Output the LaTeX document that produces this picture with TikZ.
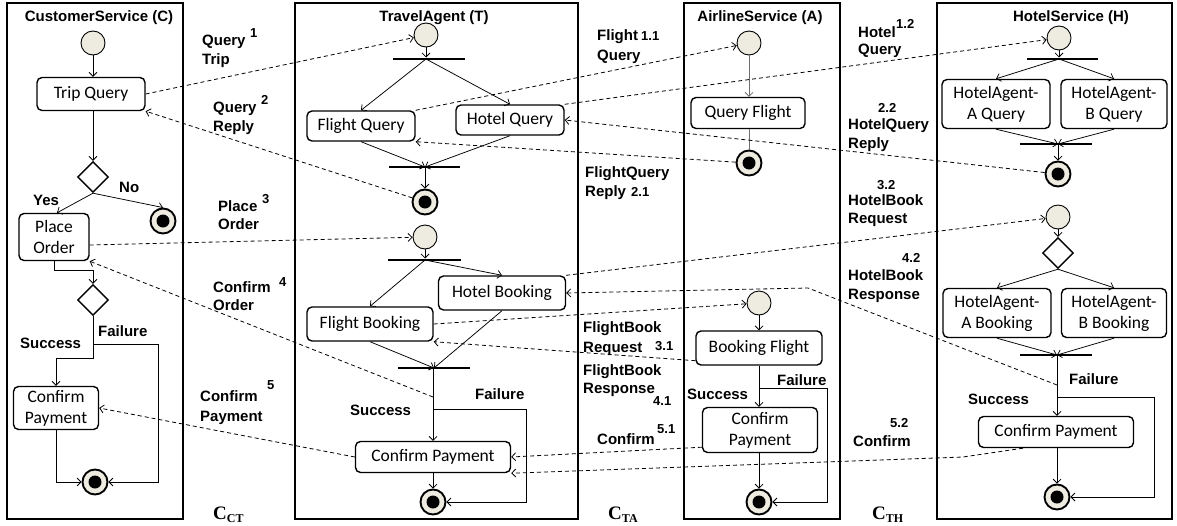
\documentclass[tikz,border=0pt]{standalone}
\usepackage{fontspec}
\setmainfont{Liberation Sans}
\newfontfamily\boxfont{Carlito}
\newfontfamily\serifb{Liberation Serif}
\usetikzlibrary{arrows.meta,shapes.geometric,calc}
\definecolor{beige}{RGB}{238,236,225}
\definecolor{flowgray}{RGB}{110,110,110}
\begin{document}
\begin{tikzpicture}[x=1pt,y=-1pt,
 lane/.style={draw, line width=1.2pt},
 ttl/.style={font=\bfseries\fontsize{15}{16}\selectfont, inner sep=0pt},
 act/.style={draw, rounded corners=5pt, line width=1.4pt, font=\boxfont\fontsize{17.5}{21}\selectfont, inner sep=0pt, align=center},
 init/.style={circle, draw, fill=beige, minimum size=24pt, inner sep=0pt, line width=0.9pt},
 fin/.style={circle, draw, fill=beige, minimum size=25pt, inner sep=0pt, line width=1.9pt, path picture={\fill[black] (path picture bounding box.center) circle (6.5pt);}},
 bar/.style={fill=black, minimum width=#1, minimum height=2.6pt, inner sep=0pt},
 dec/.style={diamond, draw, fill=white, minimum size=31pt, inner sep=0pt, line width=1.4pt},
 flow/.style={line width=0.75pt, -{Straight Barb[length=4pt,width=8pt]}},
 msg/.style={line width=0.8pt, dash pattern=on 4pt off 3pt, -{Straight Barb[length=4pt,width=8pt]}},
 lbl/.style={font=\bfseries\fontsize{15}{16}\selectfont, inner sep=0pt, anchor=base west},
 num/.style={font=\bfseries\fontsize{13}{14}\selectfont, inner sep=0pt, anchor=base west},
 cl/.style={font=\serifb\bfseries\fontsize{19}{20}\selectfont, inner sep=0pt, anchor=base west},
]
\useasboundingbox (0,0) rectangle (1177,525);

% lanes
\draw[lane] (7,3) rectangle (183,519);
\draw[lane] (295,3) rectangle (578,519);
\draw[lane] (684,3) rectangle (840,519);
\draw[lane] (937,3) rectangle (1172,519);

\node[ttl] (tC) at (99,18) {CustomerService (C)};
\node[ttl] (tT) at (434,18) {TravelAgent (T)};
\node[ttl] (tA) at (760,18) {AirlineService (A)};
\node[ttl] (tH) at (1071,18) {HotelService (H)};

% ---------- C lane
\node[init] (c0) at (93,43) {};
\node[act, minimum width=108pt, minimum height=33pt] (tq) at (91,94) {Trip Query};
\node[dec] (cd1) at (93,177) {};
\node[act, minimum width=70pt, minimum height=47pt] (po) at (54,237) {Place\\Order};
\node[fin] (cf1) at (163,221) {};
\node[dec] (cd2) at (93,300) {};
\node[act, minimum width=85pt, minimum height=43pt] (ccp) at (56,408) {Confirm\\Payment};
\node[fin] (cf2) at (95,482) {};

\draw[flow] (c0) -- (c0 |- tq.north);
\draw[flow] (cd1.north |- tq.south) -- (cd1.north);
\draw[flow] (cd1.south) -- ($(po.north)+(3,0)$);
\draw[flow] (cd1.south) -- (cf1.north);
\draw[flow] (po.south) |- ($(cd2.north)+(0,-13)$) -- (cd2.north);
\draw[flow] (cd2.south) -- ++(0,42) -| (ccp.north);
\draw[flow] ($(cd2.south)+(0,28)$) -- ++(65,0) |- (cf2.east);
\draw[flow] (ccp.south) |- (cf2.west);

\node[lbl] (lyes) at (33,205) {Yes};
\node[lbl] (lno) at (119,192) {No};
\node[lbl] (lcs) at (20,348) {Success};
\node[lbl] (lcf) at (98,336) {Failure};

% ---------- T lane
\node[init] (t0) at (426,35) {};
\node[bar=72pt] (tb1) at (429,59) {};
\node[act, minimum width=108pt, minimum height=30pt] (fq) at (361,126) {Flight Query};
\node[act, minimum width=108pt, minimum height=30pt] (hq) at (510,120) {Hotel Query};
\node[bar=71pt] (tb2) at (424,167) {};
\node[fin] (tf1) at (425,202) {};
\node[init] (t1) at (425,237) {};
\node[bar=73pt] (tb3) at (424,260) {};
\node[act, minimum width=126pt, minimum height=34pt] (fb) at (370,324) {Flight Booking};
\node[act, minimum width=127pt, minimum height=34pt] (hb) at (502,293) {Hotel Booking};
\node[bar=72pt] (tb4) at (434,368) {};
\node[act, minimum width=155pt, minimum height=31pt] (tcp) at (433,457) {Confirm Payment};
\node[fin] (tf2) at (433,502) {};

\draw[flow] (t0) -- (t0 |- tb1.north);
\draw[flow] (t0 |- tb1.center) -- (fq.north);
\draw[flow] (t0 |- tb1.center) -- (hq.north);
\draw[flow] (fq.south) -- (tf1 |- tb2.center);
\draw[flow] (hq.south) -- (tf1 |- tb2.center);
\draw[flow] (tf1 |- tb2.center) -- (tf1.north);
\draw[flow] (t1) -- (t1 |- tb3.north);
\draw[flow] (t1 |- tb3.center) -- (fb.north);
\draw[flow] (t1 |- tb3.center) -- (hb.north);
\draw[flow] (fb.south) -- (tb4.center);
\draw[flow] (hb.south) -- (tb4.center);
\draw[flow] (tcp.north |- tb4.center) -- (tcp.north);
\draw[flow] ($(tcp.north |- tb4.center)+(0,41)$) -- ++(93,0) |- (tf2.east);
\draw[flow] (tcp.south) -- (tf2.north);

\node[lbl] (lts) at (350,415) {Success};
\node[lbl] (ltf) at (475,399) {Failure};

% ---------- A lane
\node[init] (a0) at (749,43) {};
\node[act, minimum width=114pt, minimum height=31pt] (qf) at (748,113) {Query Flight};
\node[fin] (af1) at (749,163) {};
\node[init] (a1) at (759,303) {};
\node[act, minimum width=126pt, minimum height=34pt] (bf) at (759,348) {Booking Flight};
\node[act, minimum width=115pt, minimum height=45pt] (acp) at (760,430) {Confirm\\Payment};
\node[fin] (af2) at (759,502) {};

\draw[flow, draw=flowgray] (a0) -- (a0 |- qf.north);
\draw[line width=0.75pt, draw=flowgray] (a0 |- qf.south) -- (af1);
\draw[flow] (a1) -- (a1 |- bf.north);
\draw[flow] (a1 |- bf.south) -- (a1 |- acp.north);
\draw[flow] ($(a1 |- bf.south)+(0,23)$) -- ++(68,0) |- (af2.east);
\draw[flow] (af2 |- acp.south) -- (af2.north);

\node[lbl] (las) at (687,399) {Success};
\node[lbl] (laf) at (777,385) {Failure};

% ---------- H lane
\node[init] (h0) at (1059,38) {};
\node[bar=71pt] (hb1) at (1062,59) {};
\node[act, minimum width=108pt, minimum height=49pt] (haq) at (996,104) {HotelAgent-\\A Query};
\node[act, minimum width=106pt, minimum height=49pt] (hbq) at (1114,104) {HotelAgent-\\B Query};
\node[bar=72pt] (hb2) at (1056,144) {};
\node[fin] (hf1) at (1058,174) {};
\node[init] (h1) at (1058,217) {};
\node[dec] (hd) at (1058,253) {};
\node[act, minimum width=108pt, minimum height=49pt] (hab) at (997,313) {HotelAgent-\\A Booking};
\node[act, minimum width=105pt, minimum height=49pt] (hbb) at (1114,313) {HotelAgent-\\B Booking};
\node[bar=72pt] (hb3) at (1056,355) {};
\node[act, minimum width=155pt, minimum height=31pt] (hcp) at (1056,432) {Confirm Payment};
\node[fin] (hf2) at (1057,497) {};

\draw[flow] (h0) -- (h0 |- hb1.north);
\draw[flow] (h0 |- hb1.center) -- (haq.north);
\draw[flow] (h0 |- hb1.center) -- (hbq.north);
\draw[flow] (haq.south) -- (hf1 |- hb2.center);
\draw[flow] (hbq.south) -- (hf1 |- hb2.center);
\draw[flow] (hf1 |- hb2.center) -- (hf1.north);
\draw[flow] (h1) -- (hd.north);
\draw[flow] (hd.south) -- (hab.north);
\draw[flow] (hd.south) -- (hbb.north);
\draw[flow] (hab.south) -- (hf2 |- hb3.center);
\draw[flow] (hbb.south) -- (hf2 |- hb3.center);
\draw[flow] (hf2 |- hb3.center) -- (hf2 |- hcp.north);
\draw[flow] ($(hf2 |- hb3.center)+(0,42)$) -- ++(97,0) |- (hf2.east);
\draw[flow] (hf2 |- hcp.south) -- (hf2.north);

\node[lbl] (lhs) at (968,404) {Success};
\node[lbl] (lhf) at (1069,384) {Failure};

% ---------- messages
\coordinate (t4) at (433,397);
\coordinate (h4) at (1057,385);
\coordinate (h4b) at (808,288);
\coordinate (m5b) at (963,457);

\draw[msg] (tq.east) -- (t0);
\draw[msg] (tf1) -- (tq.south east);
\draw[msg] ($(po.east)+(0,8)$) -- (t1);
\draw[msg] (t4) -- (po.south east);
\draw[msg] (tcp.west) -- (ccp.east);

\draw[msg] (fq.north east) -- (a0);
\draw[msg] (hq.north east) -- (h0);
\draw[msg] (af1) -- (fq.south east);
\draw[msg] (hf1) -- (hq.east);
\draw[msg] (fb.east) -- (a1);
\draw[msg] (hb.north east) -- (h1);
\draw[msg] ($(bf.south west)+(0,-5)$) -- (fb.south east);
\draw[msg] (h4) -- (h4b) -- (hb.east);
\draw[msg] ($(acp.south west)+(0,-6)$) -- (tcp.east);
\draw[msg] ($(hcp.south)+(-33,0)$) -- (m5b) -- (tcp.south east);

% ---------- message labels C-T
\node[lbl] (q1a) at (202,45) {Query};
\node[num] (q1n) at (250,37) {1};
\node[lbl] (q1b) at (202,64) {Trip};
\node[lbl] (q2a) at (213,112) {Query};
\node[num] (q2n) at (261,104) {2};
\node[lbl] (q2b) at (213,131) {Reply};
\node[lbl] (q3a) at (218,211) {Place};
\node[num] (q3n) at (262,203) {3};
\node[lbl] (q3b) at (218,229) {Order};
\node[lbl] (q4a) at (213,292) {Confirm};
\node[num] (q4n) at (279,286) {4};
\node[lbl] (q4b) at (213,310) {Order};
\node[lbl] (q5a) at (200,401) {Confirm};
\node[num] (q5n) at (267,389) {5};
\node[lbl] (q5b) at (200,421) {Payment};
\node[cl] (cct) at (213,519) {C\raisebox{-3pt}{\fontsize{12}{12}\selectfont CT}};

% ---------- message labels T-A
\node[lbl] (f1a) at (597,40) {Flight};
\node[num] (f1n) at (641,40) {1.1};
\node[lbl] (f1b) at (597,60) {Query};
\node[lbl] (f2a) at (585,177) {FlightQuery};
\node[lbl] (f2b) at (585,196) {Reply};
\node[num] (f2n) at (631,196) {2.1};
\node[lbl] (f3a) at (583,332) {FlightBook};
\node[lbl] (f3b) at (583,352) {Request};
\node[num] (f3n) at (655,350) {3.1};
\node[lbl] (f4a) at (583,375) {FlightBook};
\node[lbl] (f4b) at (583,393) {Response};
\node[num] (f4n) at (653,405) {4.1};
\node[lbl] (f5a) at (597,444) {Confirm};
\node[num] (f5n) at (657,433) {5.1};
\node[cl] (cta) at (608,519) {C\raisebox{-3pt}{\fontsize{12}{12}\selectfont TA}};

% ---------- message labels A-H
\node[lbl] (h1a) at (858,37) {Hotel};
\node[num] (h1n) at (896,28) {1.2};
\node[lbl] (h1b) at (858,54) {Query};
\node[num] (h2n) at (878,112) {2.2};
\node[lbl] (h2a) at (848,129) {HotelQuery};
\node[lbl] (h2b) at (848,148) {Reply};
\node[num] (h3n) at (877,189) {3.2};
\node[lbl] (h3a) at (848,205) {HotelBook};
\node[lbl] (h3b) at (848,223) {Request};
\node[num] (h4n) at (902,262) {4.2};
\node[lbl] (h4a) at (848,280) {HotelBook};
\node[lbl] (h4c) at (848,299) {Response};
\node[num] (h5n) at (890,427) {5.2};
\node[lbl] (h5a) at (853,446) {Confirm};
\node[cl] (cth) at (872,519) {C\raisebox{-3pt}{\fontsize{12}{12}\selectfont TH}};
\end{tikzpicture}
\end{document}
